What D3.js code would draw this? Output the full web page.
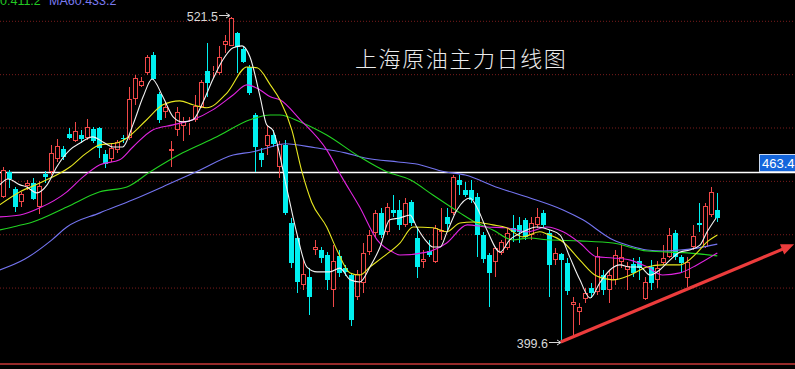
<!DOCTYPE html>
<html>
<head>
<meta charset="utf-8">
<script src="https://cdn.jsdelivr.net/npm/d3@7"></script>
<style>
  html, body { margin: 0; padding: 0; background: #000; overflow: hidden; }
</style>
</head>
<body>
<div id="chart"></div>
<script>
// ---- data (index 0 = leftmost candle) ----
const opens = [454.1,463.4,457.0,452.2,457.9,459.2,450.2,462.6,463.4,468.1,472.0,477.6,475.0,477.3,476.1,479.5,479.9,470.1,468.2,471.6,
  476.2,476.1,490.7,495.6,500.5,507.2,492.6,485.9,471.3,479.1,480.6,481.7,482.9,487.7,501.2,500.8,500.5,511.0,510.6,515.5,
  509.5,502.7,484.7,470.5,473.1,477.3,465.2,473.5,444.2,438.6,421.0,424.0,434.1,434.1,432.2,419.1,431.9,427.3,424.7,416.5,
  421.7,433.3,440.5,448.0,440.9,449.1,449.1,443.5,452.1,438.6,429.6,433.7,429.6,440.9,446.5,448.0,460.4,456.6,456.6,454.0,
  439.7,432.2,429.6,433.0,434.8,442.4,443.5,445.4,439.7,443.5,448.0,440.5,430.3,432.6,429.2,413.5,410.8,415.7,419.8,418.3,
  424.7,419.1,422.9,429.6,426.6,428.9,430.0,415.7,427.7,422.9,429.2,431.5,440.5,431.5,423.6,435.2,444.2,435.2,447.2,449.1];
const highs = [465.2,464.1,457.7,456.0,460.4,461.1,460.0,463.7,473.5,475.6,472.9,479.9,482.1,479.1,483.2,480.2,480.2,471.6,474.2,475.4,
  477.3,495.2,499.7,499.0,507.2,508.4,493.4,489.6,475.0,487.7,484.0,484.0,492.2,497.9,511.8,502.9,510.6,514.7,521.5,515.9,
  510.3,503.5,485.5,472.4,481.0,479.1,475.0,475.4,446.1,439.3,430.7,427.3,437.9,435.2,433.3,436.0,434.1,428.5,425.5,426.6,
  436.7,441.6,449.1,449.9,451.7,454.7,452.9,453.6,452.9,442.7,434.1,437.9,443.5,449.9,449.9,462.2,462.2,459.6,460.4,455.5,
  440.9,433.0,435.2,437.9,442.4,447.2,446.5,446.1,446.5,449.9,449.1,441.6,434.8,433.0,431.1,416.5,414.2,419.8,421.7,435.2,
  426.6,426.6,434.1,436.0,429.6,431.1,431.5,424.0,430.3,430.0,436.0,442.4,441.6,432.2,431.5,443.5,451.7,451.7,457.7,455.5];
const lows = [453.6,457.4,448.4,450.3,456.6,452.9,447.6,459.2,462.2,467.2,467.9,475.7,474.6,474.2,475.4,474.2,468.6,464.9,467.1,470.5,
  474.2,475.4,488.5,495.2,499.7,497.9,481.7,483.6,465.2,476.9,475.0,477.3,482.1,487.4,491.5,498.5,499.7,508.0,510.4,500.5,
  504.2,492.2,463.4,465.2,469.7,472.7,461.1,447.2,427.3,418.0,419.1,409.7,432.2,429.2,419.1,412.7,424.0,424.4,405.6,415.3,
  418.0,432.2,439.0,438.6,439.7,446.5,441.6,442.7,443.1,423.6,427.3,431.5,429.2,437.9,441.6,447.2,454.7,454.0,451.7,431.5,
  429.2,412.7,424.0,432.2,434.1,437.1,436.7,437.9,437.9,442.4,442.4,416.5,428.5,399.6,417.2,401.5,406.0,414.2,416.1,417.2,
  417.2,414.2,421.0,427.3,419.1,424.0,422.9,415.3,419.1,419.8,428.5,431.1,430.3,425.9,420.2,434.1,440.9,434.8,446.5,444.6];
const closes = [464.1,460.7,450.2,455.0,459.2,453.2,458.1,461.5,470.5,472.9,469.0,476.1,478.7,475.7,480.2,475.0,472.4,466.4,472.4,474.6,
  475.6,490.7,498.6,497.5,506.5,498.2,482.9,487.7,471.9,485.9,482.5,482.1,488.1,497.1,496.7,501.2,506.5,512.5,521.0,510.3,
  504.6,493.0,472.7,467.9,477.3,473.9,473.9,448.0,429.2,422.1,425.1,416.5,435.2,431.1,422.9,430.0,425.5,425.9,407.8,425.1,
  433.0,439.7,448.0,439.7,450.2,448.0,443.5,451.7,444.2,427.7,430.7,432.2,442.4,441.6,443.9,461.5,458.5,454.7,452.9,439.7,
  430.7,425.5,434.8,437.1,440.5,440.9,440.9,439.0,444.2,446.5,443.5,428.5,433.0,430.3,418.7,414.6,412.7,418.0,418.0,431.9,
  419.1,424.7,432.2,431.5,428.1,425.5,427.3,422.1,421.7,427.3,431.1,439.7,431.5,429.2,429.6,439.3,443.3,450.6,455.9,446.1];

// moving average lines, read as [candle index, price]
const ma5Pts = [[-0.5,458.5],[0.9,460.7],[2.9,458.5],[4.0,457.7],[5.7,455.5],[7.4,458.5],[9.0,465.2],[11.2,471.6],[12.9,474.2],[15.0,476.5],
  [16.7,474.6],[18.4,472.7],[20.0,472.7],[21.7,481.0],[23.4,491.5],[24.9,498.2],[26.7,491.5],[28.4,484.0],[30.0,482.1],[31.7,482.9],
  [33.4,489.6],[35.0,497.9],[36.7,505.4],[38.4,509.9],[39.9,510.6],[41.2,506.5],[42.9,491.5],[44.0,481.0],[45.0,479.1],[47.4,456.6],
  [49.0,440.5],[50.7,427.7],[52.4,425.9],[54.5,425.9],[56.2,427.3],[57.9,422.9],[59.5,422.1],[61.2,427.7],[62.9,435.2],[64.5,445.4],
  [66.2,446.1],[67.9,447.2],[69.0,442.7],[70.7,437.1],[71.7,435.2],[72.9,435.2],[74.0,440.5],[75.7,449.1],[77.9,453.6],[79.0,450.2],
  [80.7,441.6],[82.9,433.3],[84.5,437.9],[86.7,440.9],[89.0,442.7],[91.2,441.6],[92.9,439.7],[94.5,431.5],[96.2,422.9],[97.9,416.1],
  [99.5,421.7],[101.2,426.6],[102.9,428.5],[104.5,427.7],[106.2,427.7],[107.9,424.7],[109.5,426.6],[111.2,430.3],[112.9,433.3],[114.5,434.1],
  [116.2,435.9],[117.4,440.9],[118.9,446.1]];
const ma10Pts = [[-0.5,451.0],[2.9,455.9],[6.2,459.2],[11.2,465.2],[14.0,470.5],[16.2,473.5],[19.0,474.2],[20.7,476.1],[24.0,482.9],[26.7,488.5],
  [29.5,490.0],[31.7,488.5],[34.0,487.4],[37.4,493.0],[40.7,502.7],[42.4,502.4],[44.6,496.0],[46.2,490.4],[48.2,479.0],[49.8,464.0],
  [51.5,452.0],[54.0,442.7],[55.7,434.1],[57.9,425.5],[59.5,424.7],[61.2,427.7],[63.4,431.5],[66.2,436.7],[68.4,442.7],[71.7,442.4],
  [74.0,440.9],[76.2,444.2],[78.4,444.6],[81.7,443.5],[84.0,442.4],[86.7,439.0],[89.5,440.9],[90.7,440.1],[93.4,437.1],[96.2,430.3],
  [99.0,424.3],[101.7,422.9],[104.6,424.7],[107.4,427.7],[110.0,428.5],[112.9,428.5],[115.7,433.0],[117.4,437.1],[119.1,439.7]];
const ma20Pts = [[-0.5,446.5],[2.9,447.2],[6.2,449.9],[10.7,455.9],[13.4,461.5],[16.2,466.0],[19.5,467.9],[21.7,472.7],[25.0,479.1],[28.4,481.0],
  [31.7,482.9],[35.0,486.6],[38.4,492.2],[40.7,496.0],[42.9,494.1],[44.6,491.5],[46.2,490.4],[49.6,482.9],[54.0,471.6],[56.5,461.5],
  [59.5,450.2],[62.4,437.9],[65.0,433.3],[66.2,432.2],[70.7,433.3],[74.0,436.7],[77.4,443.5],[80.7,442.7],[84.0,442.4],[87.4,440.9],
  [90.7,442.7],[93.4,440.9],[96.2,436.7],[99.0,431.5],[101.7,431.1],[104.6,430.3],[107.4,427.7],[110.0,424.7],[112.9,425.5],[115.7,428.5],
  [119.1,433.0]];
const ma30Pts = [[-0.5,441.6],[2.4,443.1],[5.0,444.6],[10.7,450.2],[16.2,455.9],[20.7,457.7],[24.6,463.4],[30.0,470.5],[35.7,476.5],[41.2,482.9],
  [44.6,484.7],[46.2,484.7],[49.6,482.1],[54.0,477.2],[59.5,469.0],[64.0,463.4],[67.9,460.4],[71.7,454.7],[76.2,448.0],[79.0,444.2],
  [81.7,441.6],[85.0,437.9],[87.9,438.6],[90.7,437.9],[96.2,437.5],[101.7,436.7],[107.4,433.7],[114.1,433.0],[119.1,431.9]];
const ma60Pts = [[-0.5,426.6],[3.7,430.7],[8.2,437.9],[10.7,442.7],[16.2,448.0],[21.7,452.9],[27.4,458.5],[32.9,464.1],[38.4,469.7],[41.7,470.9],
  [44.6,472.7],[47.1,473.9],[52.1,472.4],[57.1,470.5],[60.4,468.6],[65.9,467.1],[68.7,466.4],[73.7,463.4],[77.1,462.2],[82.6,457.4],
  [87.9,453.6],[93.4,449.1],[96.7,445.4],[101.7,437.9],[104.6,435.6],[107.4,434.1],[110.1,433.7],[112.9,434.1],[115.7,434.8],[119.1,436.3]];

const gridTicks = [520, 500, 480, 460, 440, 420];
const lastPrice = 463.4;
const highMark = [38, 521.5];
const lowMark = [93, 399.6];
const trendStart = [93, 399.6];
const trendEnd = [131.9, 436.2];
const title = "上海原油主力日线图";

const width = 795;
const height = 369;

const svg = d3.select("#chart")
  .append("svg")
  .attr("width", width)
  .attr("height", height)
  .style("display", "block")
  .style("background", "#000");

const x = d3.scaleLinear().domain([0, 119]).range([2.7, 716.7]);
const y = d3.scaleLinear().domain([399.6, 521.5]).range([342, 16.8]);
const col = i => Math.round(x(i));

svg.append("clipPath").attr("id", "plot")
  .append("rect").attr("x", 0).attr("y", 0).attr("width", width).attr("height", 363);

// dotted grid
const grid = svg.append("g")
  .call(d3.axisRight(y).tickValues(gridTicks).tickSize(width).tickFormat(""));
grid.select(".domain").remove();
grid.selectAll("line")
  .attr("stroke", "#7a1c1c")
  .attr("stroke-dasharray", "1,2");

// bottom border
svg.append("line")
  .attr("x1", 0).attr("x2", width)
  .attr("y1", 364).attr("y2", 364)
  .attr("stroke", "#962a2a").attr("stroke-width", 2);

// last price line
svg.append("line")
  .attr("x1", 0).attr("x2", width)
  .attr("y1", Math.round(y(lastPrice)) + 0.5).attr("y2", Math.round(y(lastPrice)) + 0.5)
  .attr("stroke", "#ffffff").attr("stroke-width", 1.5);

// candles
const candles = d3.range(opens.length).map(i => ({ i, o: opens[i], h: highs[i], l: lows[i], c: closes[i] }));
const up = "#f04848", down = "#00f0f0";
const cg = svg.append("g").attr("clip-path", "url(#plot)").attr("shape-rendering", "crispEdges");

candles.forEach(d => {
  const n = col(d.i);
  const isUp = d.c >= d.o;
  const colr = isUp ? up : down;
  const top = Math.round(y(Math.max(d.o, d.c)));
  const bot = Math.round(y(Math.min(d.o, d.c)));
  cg.append("line")
    .attr("x1", n + 0.5).attr("x2", n + 0.5)
    .attr("y1", Math.round(y(d.h))).attr("y2", top)
    .attr("stroke", colr);
  cg.append("line")
    .attr("x1", n + 0.5).attr("x2", n + 0.5)
    .attr("y1", bot).attr("y2", Math.round(y(d.l)))
    .attr("stroke", colr);
  if (isUp) {
    cg.append("rect")
      .attr("x", n - 1.5).attr("y", top + 0.5)
      .attr("width", 4).attr("height", Math.max(0, bot - top - 1))
      .attr("fill", "#000").attr("stroke", colr);
  } else {
    cg.append("rect")
      .attr("x", n - 2).attr("y", top)
      .attr("width", 5).attr("height", Math.max(1, bot - top))
      .attr("fill", colr);
  }
});

// moving averages
const line = d3.line().x(d => x(d[0])).y(d => y(d[1])).curve(d3.curveMonotoneX);
const maSeries = [
  { pts: ma60Pts, color: "#7474f0" },
  { pts: ma30Pts, color: "#22d422" },
  { pts: ma20Pts, color: "#e024e0" },
  { pts: ma10Pts, color: "#e8e820" },
  { pts: ma5Pts, color: "#f2f2f2" }
];
const mg = svg.append("g").attr("clip-path", "url(#plot)");
maSeries.forEach(s => {
  mg.append("path")
    .attr("d", line(s.pts))
    .attr("fill", "none")
    .attr("stroke", s.color)
    .attr("stroke-width", 1.1);
});

// high / low markers
function markArrow(x1, x2, yy) {
  svg.append("line").attr("x1", x1).attr("x2", x2 - 1).attr("y1", yy).attr("y2", yy)
    .attr("stroke", "#d8d8d8").attr("stroke-width", 1);
  svg.append("path")
    .attr("d", `M${x2},${yy} L${x2 - 4},${yy - 2.5} M${x2},${yy} L${x2 - 4},${yy + 2.5}`)
    .attr("stroke", "#d8d8d8").attr("fill", "none");
}
const hx = col(highMark[0]) - 1, hy = Math.round(y(highMark[1])) - 1.5;
markArrow(hx - 11, hx, hy);
svg.append("text")
  .attr("x", hx - 12).attr("y", hy + 5.5)
  .attr("text-anchor", "end")
  .attr("font-family", "Liberation Sans, Arial, sans-serif")
  .attr("font-size", "12.5px")
  .attr("fill", "#d8d8d8")
  .text(highMark[1].toFixed(1));

const lx = col(lowMark[0]), ly = Math.round(y(lowMark[1])) + 0.5;
markArrow(lx - 12, lx, ly);
svg.append("text")
  .attr("x", lx - 13).attr("y", ly + 5)
  .attr("text-anchor", "end")
  .attr("font-family", "Liberation Sans, Arial, sans-serif")
  .attr("font-size", "12.5px")
  .attr("fill", "#d8d8d8")
  .text(lowMark[1].toFixed(1));

// trend arrow
const tx1 = x(trendStart[0]), ty1 = y(trendStart[1]);
const tx2 = x(trendEnd[0]), ty2 = y(trendEnd[1]);
const len = Math.hypot(tx2 - tx1, ty2 - ty1);
const ux = (tx2 - tx1) / len, uy = (ty2 - ty1) / len;
const bx = tx2 - 13 * ux, by = ty2 - 13 * uy;
svg.append("line")
  .attr("x1", tx1).attr("y1", ty1).attr("x2", bx + 2 * ux).attr("y2", by + 2 * uy)
  .attr("stroke", "#ec3c3c").attr("stroke-width", 3.2);
svg.append("path")
  .attr("d", `M${tx2},${ty2} L${bx - 5.5 * uy},${by + 5.5 * ux} L${bx + 5.5 * uy},${by - 5.5 * ux} Z`)
  .attr("fill", "#ec3c3c");

// last price tag
const ly2 = Math.round(y(lastPrice));
svg.append("rect")
  .attr("x", 759.5).attr("y", ly2 - 17.5)
  .attr("width", 36).attr("height", 17)
  .attr("fill", "#1466dc").attr("stroke", "#c8d8f0").attr("stroke-width", 1);
svg.append("text")
  .attr("x", 762).attr("y", ly2 - 4)
  .attr("font-family", "Liberation Sans, Arial, sans-serif")
  .attr("font-size", "13px")
  .attr("fill", "#ffffff")
  .text(lastPrice.toFixed(1));

// title
svg.append("text")
  .attr("x", 355).attr("y", 67)
  .attr("font-family", "Noto Sans CJK SC, sans-serif")
  .attr("font-size", "22px")
  .attr("font-weight", 300)
  .attr("letter-spacing", "1.6px")
  .attr("fill", "#ececec")
  .text(title);

// clipped legend at the top
svg.append("text")
  .attr("x", 0).attr("y", 4.5)
  .attr("font-family", "Liberation Sans, Arial, sans-serif")
  .attr("font-size", "12.5px")
  .attr("fill", "#22c822")
  .text("0:411.2");
svg.append("text")
  .attr("x", 49).attr("y", 4.5)
  .attr("font-family", "Liberation Sans, Arial, sans-serif")
  .attr("font-size", "12.5px")
  .attr("fill", "#7a7af0")
  .text("MA60:433.2");
</script>
</body>
</html>
